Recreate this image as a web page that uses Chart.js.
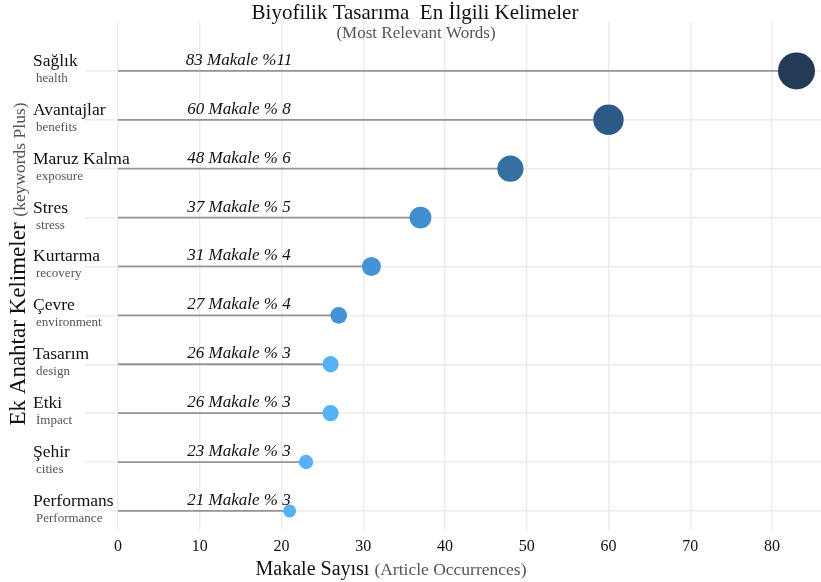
<!DOCTYPE html>
<html>
<head>
<meta charset="utf-8">
<script src="https://cdn.jsdelivr.net/npm/chart.js@4/dist/chart.umd.min.js"></script>
<style>
  html, body { margin: 0; padding: 0; background: #ffffff; }
  #wrap { position: relative; width: 821px; height: 582px; }
</style>
</head>
<body>
<div id="wrap"><canvas id="c" width="821" height="582"></canvas></div>
<script>
// ---- data ----
const keywordsTr = ['Sağlık', 'Avantajlar', 'Maruz Kalma', 'Stres', 'Kurtarma', 'Çevre', 'Tasarım', 'Etki', 'Şehir', 'Performans'];
const keywordsEn = ['health', 'benefits', 'exposure', 'stress', 'recovery', 'environment', 'design', 'İmpact', 'cities', 'Performance'];
const articleCounts = [83, 60, 48, 37, 31, 27, 26, 26, 23, 21];
const percentLabels = ['%11', '% 8', '% 6', '% 5', '% 4', '% 4', '% 3', '% 3', '% 3', '% 3'];
const xTickValues = [0, 10, 20, 30, 40, 50, 60, 70, 80];

// ---- styles ----
const pointColors = ['#243b56', '#2b5a86', '#3670a3', '#418ecf', '#4692d6', '#4692d6', '#56b1f7', '#56b1f7', '#56b1f7', '#56b1f7'];
const SERIF = '"Liberation Serif", "DejaVu Serif", serif';
const minC = Math.min(...articleCounts), maxC = Math.max(...articleCounts);
function radiusFor(v) {
  const r2 = 42 + (v - minC) * (300 / (maxC - minC));
  return Math.sqrt(r2);
}

const rows = keywordsTr.map((_, i) => i + 1);

const stemDatasets = articleCounts.map((v, i) => ({
  type: 'line',
  data: [{ x: 0, y: rows[i] }, { x: v, y: rows[i] }],
  borderColor: '#959595',
  borderWidth: 1.8,
  pointRadius: 0,
  pointHoverRadius: 0,
  order: 2
}));

const pointDataset = {
  type: 'scatter',
  data: articleCounts.map((v, i) => ({ x: v, y: rows[i] })),
  backgroundColor: pointColors,
  borderWidth: 0,
  pointRadius: ctx => radiusFor(articleCounts[ctx.dataIndex]),
  pointHoverRadius: ctx => radiusFor(articleCounts[ctx.dataIndex]),
  order: 1
};

function mixedText(ctx, parts, cx, y) {
  let total = 0;
  parts.forEach(p => { ctx.font = p.font; p.w = ctx.measureText(p.text).width; total += p.w; });
  let x = cx - total / 2;
  ctx.textAlign = 'left';
  parts.forEach(p => { ctx.font = p.font; ctx.fillStyle = p.color; ctx.fillText(p.text, x, y); x += p.w; });
}

const textPlugin = {
  id: 'texts',
  afterDatasetsDraw(chart) {
    const ctx = chart.ctx;
    const xs = chart.scales.x, ys = chart.scales.y;
    ctx.save();
    ctx.fillStyle = '#111';
    ctx.font = 'italic 17px ' + SERIF;
    ctx.textAlign = 'center';
    ctx.textBaseline = 'alphabetic';
    articleCounts.forEach((v, i) => {
      const y = ys.getPixelForValue(rows[i]);
      ctx.fillText(v + ' Makale ' + percentLabels[i], xs.getPixelForValue(14.8), y - 6);
    });
    ctx.restore();
  },
  afterDraw(chart) {
    const ctx = chart.ctx;
    const ys = chart.scales.y;
    ctx.save();
    ctx.textAlign = 'left';
    ctx.textBaseline = 'alphabetic';
    keywordsTr.forEach((t, i) => {
      const y = ys.getPixelForValue(rows[i]);
      ctx.fillStyle = '#111';
      ctx.font = '17.5px ' + SERIF;
      ctx.fillText(t, 33, y - 5);
      ctx.fillStyle = '#555';
      ctx.font = '13px ' + SERIF;
      ctx.fillText(keywordsEn[i], 36, y + 11);
    });

    // title
    ctx.textAlign = 'center';
    ctx.fillStyle = '#111';
    ctx.font = '21px ' + SERIF;
    ctx.fillText('Biyofilik Tasarıma  En İlgili Kelimeler', 415, 19);
    ctx.fillStyle = '#555';
    ctx.font = '17px ' + SERIF;
    ctx.fillText('(Most Relevant Words)', 416, 38);

    // x axis title
    mixedText(ctx, [
      { text: 'Makale Sayısı ', font: '20px ' + SERIF, color: '#111' },
      { text: '(Article Occurrences)', font: '17.5px ' + SERIF, color: '#555' }
    ], 391, 575);

    // y axis title
    ctx.translate(25, 264);
    ctx.rotate(-Math.PI / 2);
    mixedText(ctx, [
      { text: 'Ek Anahtar Kelimeler ', font: '23px ' + SERIF, color: '#111' },
      { text: '(keywords Plus)', font: '17.5px ' + SERIF, color: '#555' }
    ], 0, 0);
    ctx.restore();
  }
};

new Chart(document.getElementById('c'), {
  data: { datasets: [...stemDatasets, pointDataset] },
  options: {
    responsive: false,
    animation: false,
    events: [],
    layout: { autoPadding: false, padding: { left: 85, top: 22, right: 0, bottom: 0 } },
    plugins: { legend: { display: false }, tooltip: { enabled: false }, title: { display: false } },
    scales: {
      x: {
        type: 'linear',
        min: -4.04,
        max: 86.0,
        afterBuildTicks: s => { s.ticks = xTickValues.map(v => ({ value: v })); },
        afterFit: s => { s.height = 52; },
        grid: { color: '#ebebeb', lineWidth: 1.4, drawTicks: false },
        border: { display: false },
        ticks: {
          padding: 7,
          color: '#111',
          font: { family: SERIF, size: 16 },
          maxRotation: 0
        }
      },
      y: {
        type: 'linear',
        reverse: true,
        min: 0,
        max: 10.39,
        afterBuildTicks: s => { s.ticks = rows.map(v => ({ value: v })); },
        afterFit: s => { s.width = 0; },
        grid: { color: '#ebebeb', lineWidth: 1.4, drawTicks: false },
        border: { display: false },
        ticks: { display: false }
      }
    }
  },
  plugins: [textPlugin]
});
</script>
</body>
</html>
